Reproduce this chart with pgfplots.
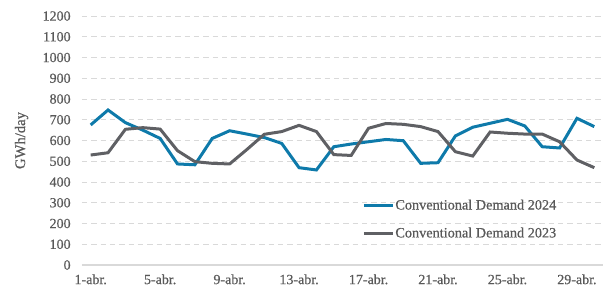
\documentclass[border=0pt]{standalone}
\usepackage{fontspec}
\setmainfont{Liberation Serif}[RawFeature={embolden=0.6}]
\usepackage{pgfplots}
\pgfplotsset{compat=1.18}
\usetikzlibrary{calc}
\definecolor{c24}{RGB}{14,122,170}
\definecolor{c23}{RGB}{95,96,100}
\definecolor{txt}{RGB}{89,89,89}
\definecolor{grd}{RGB}{217,217,217}
\begin{document}
\begin{tikzpicture}
\begin{axis}[name=ax,
  scale only axis, width=390.75pt, height=186.75pt,
  xmin=0.5, xmax=30.5, ymin=0, ymax=1200,
  xtick={1,5,9,13,17,21,25,29},
  xticklabels={1-abr.,5-abr.,9-abr.,13-abr.,17-abr.,21-abr.,25-abr.,29-abr.},
  ytick={0,100,...,1200},
  /pgf/number format/assume math mode=true,
  /pgf/number format/1000 sep={},
  tick label style={font=\fontsize{10.5}{12}\selectfont, text=txt},
  yticklabel style={xshift=-5pt},
  ylabel={GWh/day},
  ylabel style={font=\fontsize{11}{12}\selectfont, text=txt,
    at={(axis description cs:-0.116,0.5)}, anchor=center},
  axis y line*=left, y axis line style={draw=none},
  axis x line*=bottom, x axis line style={draw=grd, line width=0.8pt},
  major tick length=0pt,
  ymajorgrids, grid style={grd, dashed, dash pattern=on 4pt off 3pt, line width=0.7pt},
  xticklabel style={yshift=-3.5pt},
  legend style={at={(0.530,0.285)}, anchor=north west, draw=none, fill=none,
    font=\fontsize{10.7}{12}\selectfont, text=txt, row sep=8pt,
    nodes={inner xsep=0.5pt}},
  legend cell align=left,
  legend image code/.code={\draw[#1, line width=2.25pt] (0pt,0pt) -- (22pt,0pt);},
]
\addplot[c24, line width=2.25pt] coordinates {
(1,675)(2,747)(3,686)(4,650)(5,610)(6,487)(7,483)(8,610)(9,647)(10,631)
(11,614)(12,586)(13,469)(14,458)(15,570)(16,583)(17,594)(18,605)(19,599)(20,490)
(21,493)(22,622)(23,664)(24,683)(25,702)(26,670)(27,570)(28,564)(29,707)(30,667)};
\addlegendentry{Conventional Demand 2024}
\addplot[c23, line width=2.25pt] coordinates {
(1,530)(2,541)(3,654)(4,662)(5,655)(6,551)(7,498)(8,490)(9,487)(10,557)
(11,630)(12,643)(13,673)(14,643)(15,532)(16,528)(17,659)(18,682)(19,678)(20,667)
(21,643)(22,546)(23,525)(24,641)(25,635)(26,631)(27,631)(28,594)(29,506)(30,469)};
\addlegendentry{Conventional Demand 2023}
\end{axis}
\pgfresetboundingbox
\path ($(ax.south west)+(-61.5pt,-16.5pt)$) rectangle ($(ax.north east)+(0pt,12pt)$);
\end{tikzpicture}
\end{document}
